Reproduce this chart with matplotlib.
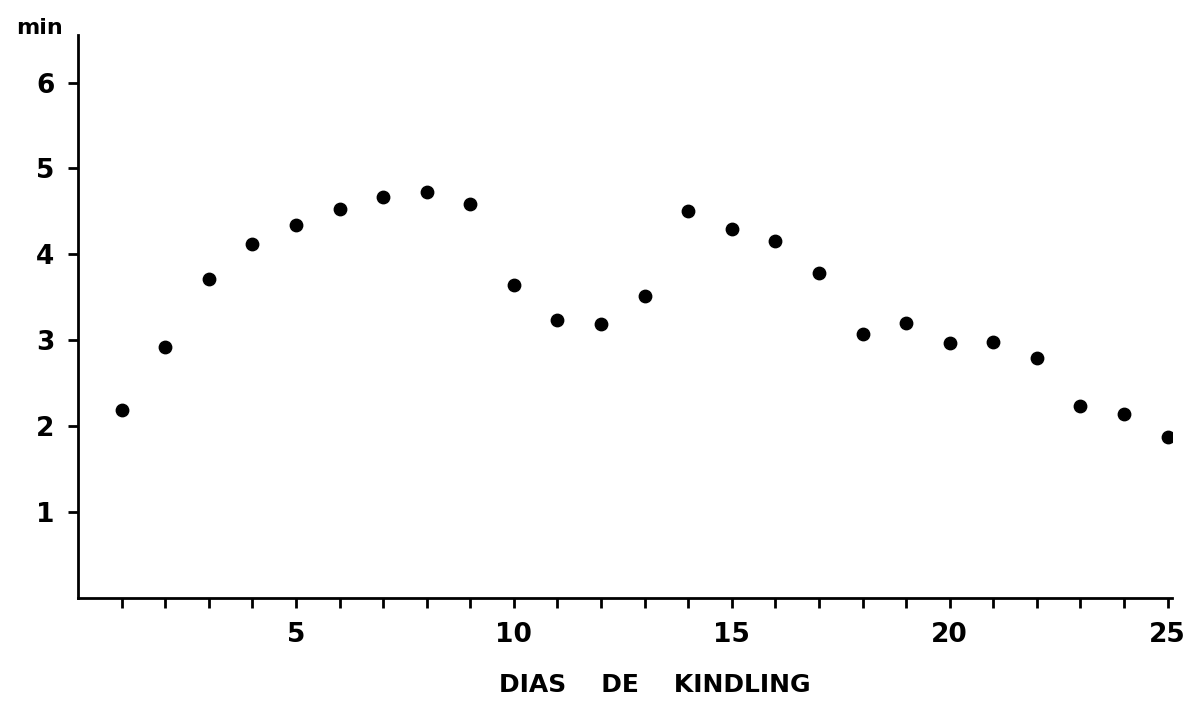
import matplotlib.pyplot as plt

dias = list(range(1, 26))
minutos = [2.19, 2.92, 3.71, 4.12, 4.34, 4.53, 4.67, 4.73, 4.59, 3.64,
           3.24, 3.19, 3.51, 4.50, 4.30, 4.15, 3.78, 3.07, 3.20, 2.97,
           2.98, 2.79, 2.24, 2.14, 1.87]
x_ticks = [5, 10, 15, 20, 25]
y_ticks = [1, 2, 3, 4, 5, 6]

plt.rcParams['font.family'] = ['DejaVu Sans']
plt.rcParams['font.weight'] = 'bold'

figure = plt.figure(figsize=(11.88, 7.2), dpi=100)
axis = figure.add_axes([0.0657, 0.1694, 0.9208, 0.7816])

axis.scatter(dias, minutos, s=80, color='black', zorder=3)

axis.set_xlim(0, 25.1)
axis.set_ylim(0, 6.55)
axis.spines['top'].set_visible(False)
axis.spines['right'].set_visible(False)
for side in ('left', 'bottom'):
    axis.spines[side].set_linewidth(2)

axis.set_xticks(dias, minor=True)
axis.set_xticks(x_ticks)
axis.set_xticklabels([str(v) for v in x_ticks])
axis.set_yticks(y_ticks)
axis.set_yticklabels([str(v) for v in y_ticks])
axis.tick_params(axis='both', which='both', length=7, width=2, labelsize=19, pad=10)
axis.tick_params(axis='x', which='minor', length=7, width=2)

figure.text(40 / 1188, 1 - 28 / 720, 'min', fontsize=16, fontweight='bold',
            ha='center', va='center')
figure.text(655 / 1188, 1 - 685 / 720, 'DIAS    DE    KINDLING', fontsize=18,
            fontweight='bold', ha='center', va='center')

figure.savefig('out.png', dpi=100)
plt.close(figure)
